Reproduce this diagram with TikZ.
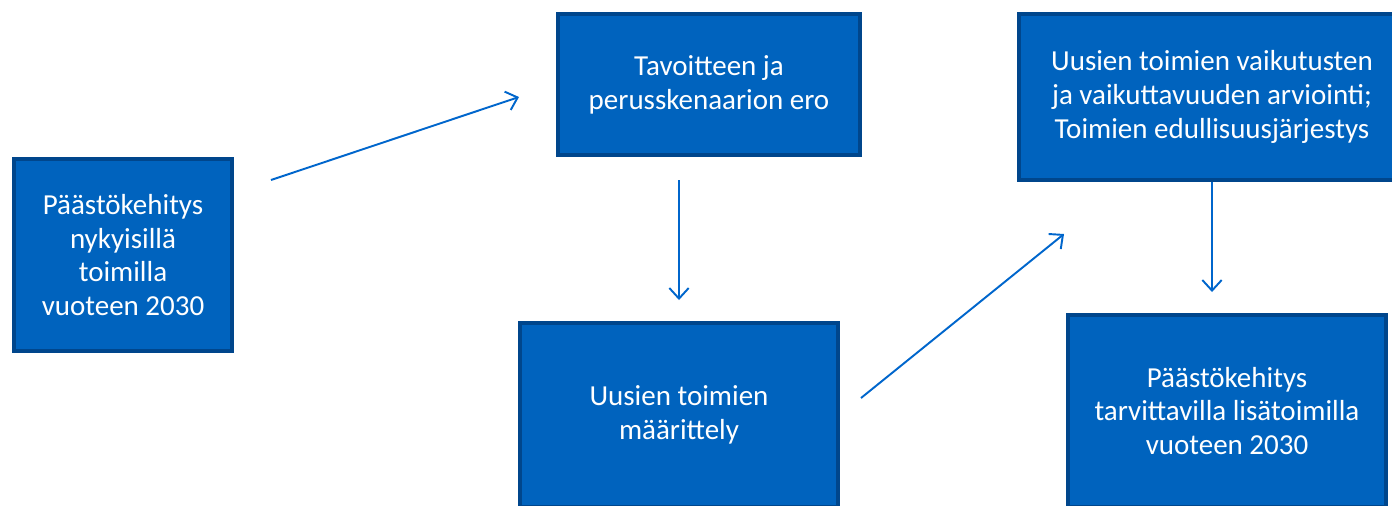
\documentclass[tikz,border=0pt]{standalone}
\usepackage{fontspec}
\setmainfont{Carlito}
\usetikzlibrary{arrows.meta}
\definecolor{boxfill}{RGB}{0,99,190}
\definecolor{boxline}{RGB}{0,70,140}
\definecolor{arrowblue}{RGB}{0,102,204}
\begin{document}
\begin{tikzpicture}[x=0.02cm,y=-0.02cm,
        stage/.style={draw=boxline,line width=2.2pt,fill=boxfill,text=white,align=center,
                inner sep=0pt,font=\fontsize{16.5}{19.3}\selectfont},
        flow/.style={draw=arrowblue,line width=1.1pt,-{Straight Barb[length=6pt,width=11pt]}}]
        \useasboundingbox (0,0) rectangle (1392,505);
        \clip (0,0) rectangle (1392,505);

        % boxes
        \node[stage,minimum width=4.36cm,minimum height=3.84cm] (nyky) at (123,255)
                {Päästökehitys\\nykyisillä\\toimilla\\vuoteen 2030};
        \node[stage,minimum width=6.04cm,minimum height=2.82cm] (ero) at (709,84.5)
                {Tavoitteen ja\\perusskenaarion ero};
        \node[stage,minimum width=6.36cm,minimum height=3.68cm] (maar) at (679,415)
                {Uusien toimien\\määrittely};
        \node[stage,minimum width=7.72cm,minimum height=3.32cm] (arvio) at (1212,97)
                {Uusien toimien vaikutusten\\ja vaikuttavuuden arviointi;\\Toimien edullisuusjärjestys};
        \node[stage,minimum width=6.36cm,minimum height=3.84cm] (lisa) at (1227,411)
                {Päästökehitys\\tarvittavilla lisätoimilla\\vuoteen 2030};

        % arrow ends
        \coordinate (a1s) at (271,180);
        \coordinate (a1e) at (519,97);
        \coordinate (a2s) at (679,180);
        \coordinate (a2e) at (679,300);
        \coordinate (a3s) at (861,398);
        \coordinate (a3e) at (1064,234);
        \coordinate (a4s) at (1212,182);
        \coordinate (a4e) at (1212,292);

        \draw[flow] (a1s) -- (a1e);
        \draw[flow] (a2s) -- (a2e);
        \draw[flow] (a3s) -- (a3e);
        \draw[flow] (a4s) -- (a4e);
\end{tikzpicture}
\end{document}
